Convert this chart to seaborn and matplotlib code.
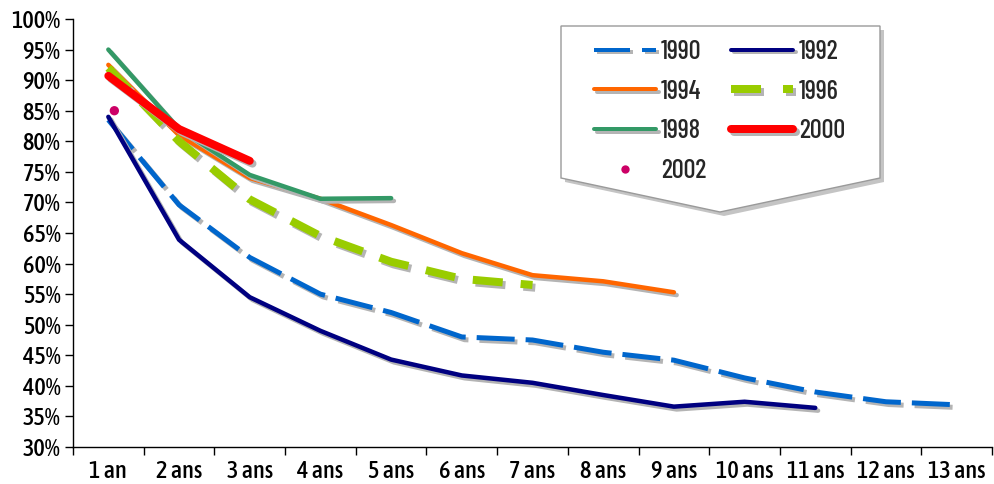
import matplotlib
matplotlib.use("Agg")
import matplotlib.pyplot as plt
import matplotlib.patheffects as pe
from matplotlib.lines import Line2D
from matplotlib.patches import Polygon
import matplotlib.transforms as mtransforms
import seaborn as sns

sns.set_theme(style="white")
plt.rcParams['font.family'] = ['Asap Condensed', 'DejaVu Sans']
plt.rcParams['font.weight'] = 500

categories = ["1 an", "2 ans", "3 ans", "4 ans", "5 ans", "6 ans", "7 ans",
              "8 ans", "9 ans", "10 ans", "11 ans", "12 ans", "13 ans"]
y1990 = [83.5, 69.6, 61.0, 55.0, 52.0, 48.0, 47.5, 45.5, 44.2, 41.3, 39.0, 37.4, 36.9]
y1992 = [84.0, 63.9, 54.5, 49.0, 44.3, 41.7, 40.5, 38.5, 36.6, 37.4, 36.4]
y1994 = [92.5, 81.0, 74.0, 70.6, 66.3, 61.7, 58.1, 57.1, 55.3]
y1996 = [92.0, 80.0, 70.5, 64.5, 60.3, 57.5, 56.5]
y1998 = [95.0, 82.0, 74.5, 70.6, 70.7]
y2000 = [90.7, 82.0, 76.8]
y2002 = [85.0]
ytick_vals = list(range(30, 101, 5))

W, H = 995, 484
fig = plt.figure(figsize=(W / 100, H / 100), dpi=100)
ax = fig.add_axes([73 / W, 1 - 447 / H, (992 - 73) / W, (447 - 19) / H])

def shadow():
    return [pe.SimpleLineShadow(offset=(2.0, -2.0), shadow_color="#b4b4b4", alpha=1.0, rho=1.0),
            pe.Normal()]

px = 0.72  # points per pixel at dpi 100

series = [
    ("1990", y1990, "#0066CC", 5.0, (0, (7.6, 2.2))),
    ("1992", y1992, "#000080", 4.5, "-"),
    ("1994", y1994, "#FF6600", 4.5, "-"),
    ("1996", y1996, "#99CC00", 8.0, (0, (3.75, 2.25))),
    ("1998", y1998, "#339966", 4.5, "-"),
    ("2000", y2000, "#FF0000", 8.0, "-"),
]
for name, vals, color, lw, ls in series:
    xs = list(range(len(vals)))
    sns.lineplot(x=xs, y=vals, ax=ax, color=color, linewidth=lw * px,
                 linestyle=ls, solid_capstyle="round", dash_capstyle="butt",
                 path_effects=shadow(), legend=False)

off = mtransforms.ScaledTranslation(6 / 100, 0, fig.dpi_scale_trans)
sns.scatterplot(x=[0] * len(y2002), y=y2002, ax=ax, color="#CC0066", s=45,
                edgecolor="none", legend=False, transform=ax.transData + off)

ax.set_xlim(-0.5, len(categories) - 0.5)
ax.set_ylim(30, 100)
ax.set_yticks(ytick_vals)
ax.set_yticklabels([f"{v}%" for v in ytick_vals])
ax.set_xticks(range(len(categories)))
ax.set_xticklabels(categories)
ax.set_xticks([i - 0.5 for i in range(len(categories) + 1)], minor=True)
ax.tick_params(axis="x", which="major", length=0, pad=9, labelsize=17.5, colors="black")
ax.tick_params(axis="x", which="minor", length=6, width=1, color="black", direction="out", bottom=True)
ax.tick_params(axis="y", length=6, width=1, color="black", direction="out", left=True,
               pad=3, labelsize=17.5, labelcolor="black")
for s in ["top", "right"]:
    ax.spines[s].set_visible(False)
for s in ["left", "bottom"]:
    ax.spines[s].set_color("black")
    ax.spines[s].set_linewidth(1)
ax.set_xlabel("")
ax.set_ylabel("")

# legend frame (pentagon with shadow)
pts = [(561, 26), (880, 26), (880, 178), (720, 212), (561, 178)]
fpts = [(x / W, 1 - y / H) for x, y in pts]
spts = [(x + 4 / W, y - 4 / H) for x, y in fpts]
fig.patches.append(Polygon(spts, closed=True, transform=fig.transFigure,
                           facecolor="#c4c4c4", edgecolor="none", zorder=5))
fig.patches.append(Polygon(fpts, closed=True, transform=fig.transFigure,
                           facecolor="white", edgecolor="#9a9a9a", linewidth=1, zorder=6))

h = {
    "1990": Line2D([], [], color="#0066CC", lw=4 * px, linestyle=(0, (9, 3, 3.5, 3)),
                   path_effects=shadow()),
    "1992": Line2D([], [], color="#000080", lw=4 * px, solid_capstyle="round", path_effects=shadow()),
    "1994": Line2D([], [], color="#FF6600", lw=4 * px, solid_capstyle="round", path_effects=shadow()),
    "1996": Line2D([], [], color="#99CC00", lw=8 * px, linestyle=(0, (3.75, 2.75, 1.25, 2)),
                   path_effects=shadow()),
    "1998": Line2D([], [], color="#339966", lw=4 * px, solid_capstyle="round", path_effects=shadow()),
    "2000": Line2D([], [], color="#FF0000", lw=8 * px, solid_capstyle="round", path_effects=shadow()),
    "2002": Line2D([], [], color="#CC0066", marker="o", markersize=6, linestyle="none",
                   markeredgecolor="none"),
}
# column-major order so rows read 1990/1992, 1994/1996, 1998/2000, 2002
order = ["1990", "1994", "1998", "2002", "1992", "1996", "2000"]
leg = fig.legend([h[k] for k in order], order, ncol=2, frameon=False,
                 prop={"family": ["Barlow Condensed", "DejaVu Sans"], "size": 19, "weight": 500},
                 handlelength=2.35, handletextpad=0.2, columnspacing=0.95,
                 labelspacing=0.6, loc="upper left",
                 bbox_to_anchor=(570 / W, 1 - 16 / H))
leg.set_zorder(10)

fig.savefig("out.png", dpi=100)
